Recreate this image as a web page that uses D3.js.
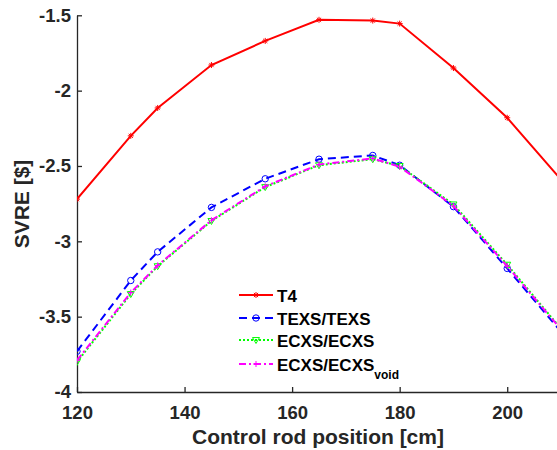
<!DOCTYPE html>
<html>
<head>
<meta charset="utf-8">
<script src="https://cdn.jsdelivr.net/npm/d3@7"></script>
<style>
  body { margin: 0; background: #fff; }
  svg { display: block; font-family: "Liberation Sans", Arial, sans-serif; font-weight: bold; }
</style>
</head>
<body>
<div id="chart"></div>
<script>
// ---- data ----
const positions = [120, 130, 135, 145, 155, 165, 175, 180, 190, 200, 210];
const t4 = [-2.72, -2.30, -2.115, -1.83, -1.67, -1.53, -1.535, -1.555, -1.85, -2.18, -2.59];
const texs = [-3.73, -3.26, -3.07, -2.775, -2.585, -2.455, -2.43, -2.495, -2.77, -3.18, -3.60];
const ecxs = [-3.80, -3.35, -3.165, -2.865, -2.64, -2.495, -2.455, -2.50, -2.755, -3.155, -3.58];
const ecxsVoid = [-3.79, -3.34, -3.16, -2.86, -2.635, -2.49, -2.45, -2.505, -2.765, -3.165, -3.585];
const xTicks = [120, 140, 160, 180, 200];
const yTicks = [-4, -3.5, -3, -2.5, -2, -1.5];

const series = [
    { name: 'T4', sub: '', values: t4, color: '#ff0000', dash: null, marker: 'star' },
    { name: 'TEXS/TEXS', sub: '', values: texs, color: '#0000ff', dash: '8,5', marker: 'circle' },
    { name: 'ECXS/ECXS', sub: '', values: ecxs, color: '#00ff00', dash: '2,2', marker: 'triangle' },
    { name: 'ECXS/ECXS', sub: 'void', values: ecxsVoid, color: '#ff00ff', dash: '7,3,2,3', marker: 'plus' }
];

const width = 557, height = 450;
const margin = { left: 77, top: 15.3, right: 561, bottom: 392 };

const svg = d3.select('#chart').append('svg')
    .attr('width', width)
    .attr('height', height);

const x = d3.scaleLinear().domain([120, 210]).range([margin.left, margin.right]);
const y = d3.scaleLinear().domain([-4, -1.5]).range([margin.bottom, margin.top]);

svg.append('defs').append('clipPath').attr('id', 'plot-clip')
    .append('rect')
    .attr('x', margin.left).attr('y', margin.top)
    .attr('width', margin.right - margin.left)
    .attr('height', margin.bottom - margin.top);

// axes (MATLAB style: ticks inside, box off)
const xAxis = svg.append('g')
    .attr('transform', `translate(0,${margin.bottom})`)
    .call(d3.axisBottom(x).tickValues(xTicks).tickSizeInner(-5).tickSizeOuter(0).tickPadding(14).tickFormat(d3.format('d')));
const yAxis = svg.append('g')
    .attr('transform', `translate(${margin.left},0)`)
    .call(d3.axisLeft(y).tickValues(yTicks).tickSizeInner(-5).tickSizeOuter(0).tickPadding(6).tickFormat(d => String(d)));

[xAxis, yAxis].forEach(a => {
    a.select('.domain').attr('stroke', '#262626').attr('stroke-width', 1.3);
    a.selectAll('.tick line').attr('stroke', '#262626').attr('stroke-width', 1.3);
    a.selectAll('.tick text')
        .attr('fill', '#262626')
        .style('font-size', '18.5px')
        .style('font-weight', 'bold')
        .style('font-family', '"Liberation Sans", Arial, sans-serif');
});

// axis labels
svg.append('text')
    .attr('x', 318).attr('y', 444)
    .attr('text-anchor', 'middle')
    .attr('fill', '#262626')
    .style('font-size', '21px')
    .text('Control rod position [cm]');

svg.append('text')
    .attr('transform', 'translate(29,204) rotate(-90)')
    .attr('text-anchor', 'middle')
    .attr('fill', '#262626')
    .style('font-size', '21px')
    .text('SVRE [$]');

// marker drawing
function drawMarker(g, type, color, cx, cy) {
    if (type === 'circle') {
        g.append('circle').attr('cx', cx).attr('cy', cy).attr('r', 3.2)
            .attr('fill', 'none').attr('stroke', color).attr('stroke-width', 1);
    } else if (type === 'triangle') {
        const s = 3.5;
        g.append('path')
            .attr('d', `M${cx - s},${cy - s * 0.7}L${cx + s},${cy - s * 0.7}L${cx},${cy + s}Z`)
            .attr('fill', 'none').attr('stroke', color).attr('stroke-width', 1);
    } else if (type === 'plus') {
        const s = 3;
        g.append('path')
            .attr('d', `M${cx - s},${cy}L${cx + s},${cy}M${cx},${cy - s}L${cx},${cy + s}`)
            .attr('stroke', color).attr('stroke-width', 1);
    } else if (type === 'star') {
        const s = 3;
        g.append('path')
            .attr('d', `M${cx - s},${cy}L${cx + s},${cy}M${cx},${cy - s}L${cx},${cy + s}M${cx - s * 0.7},${cy - s * 0.7}L${cx + s * 0.7},${cy + s * 0.7}M${cx - s * 0.7},${cy + s * 0.7}L${cx + s * 0.7},${cy - s * 0.7}`)
            .attr('stroke', color).attr('stroke-width', 1);
    }
}

// plot lines
const plot = svg.append('g').attr('clip-path', 'url(#plot-clip)');
const line = d3.line().x((d, i) => x(positions[i])).y(d => y(d));

series.forEach(s => {
    plot.append('path')
        .datum(s.values)
        .attr('fill', 'none')
        .attr('stroke', s.color)
        .attr('stroke-width', 2)
        .attr('stroke-dasharray', s.dash)
        .attr('d', line);
    const mg = plot.append('g');
    s.values.forEach((v, i) => drawMarker(mg, s.marker, s.color, x(positions[i]), y(v)));
});

// legend
const legendY = [295, 318, 340, 364];
const legend = svg.append('g');
series.forEach((s, i) => {
    const ly = legendY[i];
    legend.append('line')
        .attr('x1', 239).attr('x2', 273)
        .attr('y1', ly).attr('y2', ly)
        .attr('stroke', s.color)
        .attr('stroke-width', 2)
        .attr('stroke-dasharray', s.dash);
    drawMarker(legend, s.marker, s.color, 256, ly);
    const t = legend.append('text')
        .attr('x', 277).attr('y', ly + 7)
        .attr('fill', '#000')
        .style('font-size', '17px')
        .text(s.name);
    if (s.sub) {
        t.append('tspan')
            .attr('dy', 8)
            .style('font-size', '12px')
            .text(s.sub);
    }
});
</script>
</body>
</html>
